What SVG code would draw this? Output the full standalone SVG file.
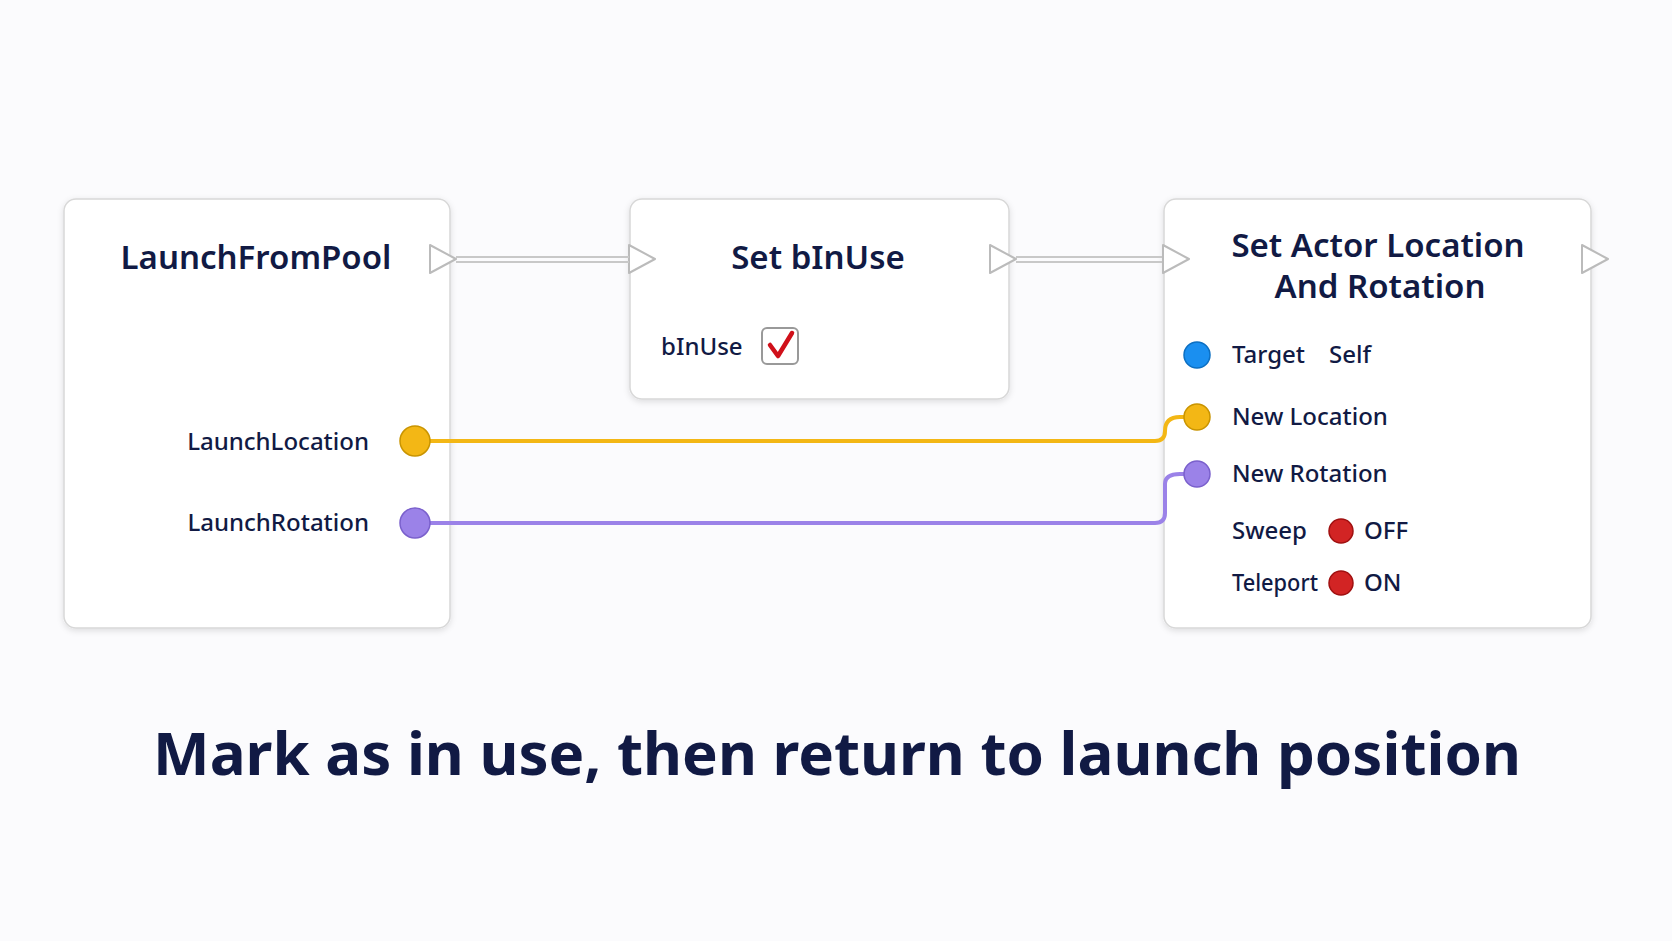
<svg xmlns="http://www.w3.org/2000/svg" width="1672" height="941" viewBox="0 0 1672 941">
<defs>
<filter id="sh" x="-10%" y="-10%" width="120%" height="120%"><feDropShadow dx="0" dy="2" stdDeviation="3" flood-color="#000" flood-opacity="0.12"/></filter>
<style>
.node{fill:#fff;stroke:#d8d8d8;stroke-width:1.5;filter:url(#sh)}
.t{font-family:"Noto Sans","Open Sans",sans-serif;fill:#111a44}
.title{font-size:33px;font-weight:600;text-anchor:middle}
.lbl{font-size:24px;font-weight:500}
.exec{fill:#fff;stroke:#bbb;stroke-width:2;stroke-linejoin:round}
</style>
</defs>
<rect width="1672" height="941" fill="#fbfbfd"/>
<g id="launchFromPool">
<rect class="node" x="64" y="199" width="386" height="429" rx="12"/>
<text class="t title" x="256" y="269">LaunchFromPool</text>
<path class="exec" d="M430 245L456 259L430 273Z"/>
<text class="t lbl" x="369" y="450" text-anchor="end">LaunchLocation</text>
<text class="t lbl" x="369" y="531" text-anchor="end">LaunchRotation</text>
</g>
<g id="setBInUse">
<rect class="node" x="630" y="199" width="379" height="200" rx="12"/>
<path class="exec" d="M629 245L655 259L629 273Z"/>
<path class="exec" d="M990 245L1016 259L990 273Z"/>
<text class="t title" x="818" y="269">Set bInUse</text>
<text class="t lbl" x="661" y="355">bInUse</text>
<rect x="762" y="328" width="36" height="36" rx="5" fill="#fff" stroke="#999" stroke-width="2"/>
<path d="M770 345L778 356L792 333" fill="none" stroke="#d0101a" stroke-width="4.5" stroke-linecap="round" stroke-linejoin="round"/>
</g>
<g id="setActorLocation">
<rect class="node" x="1164" y="199" width="427" height="429" rx="12"/>
<path class="exec" d="M1163 245L1189 259L1163 273Z"/>
<path class="exec" d="M1582 245L1608 259L1582 273Z"/>
<text class="t title" x="1378" y="257">Set Actor Location</text>
<text class="t title" x="1380" y="298">And Rotation</text>
<circle cx="1197" cy="355" r="13" fill="#1a8ff0" stroke="#0c6fc2" stroke-width="1.5"/>
<text class="t lbl" x="1232" y="363">Target</text>
<text class="t lbl" x="1329" y="363">Self</text>
<text class="t lbl" x="1232" y="425">New Location</text>
<text class="t lbl" x="1232" y="482">New Rotation</text>
<text class="t lbl" x="1232" y="539">Sweep</text>
<circle cx="1341" cy="531" r="12" fill="#d22424" stroke="#a01010" stroke-width="1.5"/>
<text class="t lbl" x="1364" y="539">OFF</text>
<text class="t lbl" x="1232" y="591" textLength="86" lengthAdjust="spacingAndGlyphs">Teleport</text>
<circle cx="1341" cy="583" r="12" fill="#d22424" stroke="#a01010" stroke-width="1.5"/>
<text class="t lbl" x="1364" y="591">ON</text>
</g>
<g id="connectors" fill="none">
<path d="M456 257H629M456 262H629" stroke="#c8c8c8" stroke-width="2"/>
<path d="M1016 257H1162M1016 262H1162" stroke="#c8c8c8" stroke-width="2"/>
<path d="M415 441H1155Q1165 441 1165 431Q1165 417 1180 417H1197" stroke="#f3b715" stroke-width="4"/>
<path d="M415 523H1155Q1165 523 1165 513V484Q1165 474 1180 474H1197" stroke="#9b82e8" stroke-width="4"/>
<circle cx="415" cy="441" r="15" fill="#f3b715" stroke="#c99400" stroke-width="1.5"/>
<circle cx="415" cy="523" r="15" fill="#9b82e8" stroke="#7a60cc" stroke-width="1.5"/>
<circle cx="1197" cy="417" r="13" fill="#f3b715" stroke="#c99400" stroke-width="1.5"/>
<circle cx="1197" cy="474" r="13" fill="#9b82e8" stroke="#7a60cc" stroke-width="1.5"/>
</g>
<text class="t" x="837" y="775" font-size="60" font-weight="700" text-anchor="middle">Mark as in use, then return to launch position</text>
</svg>
